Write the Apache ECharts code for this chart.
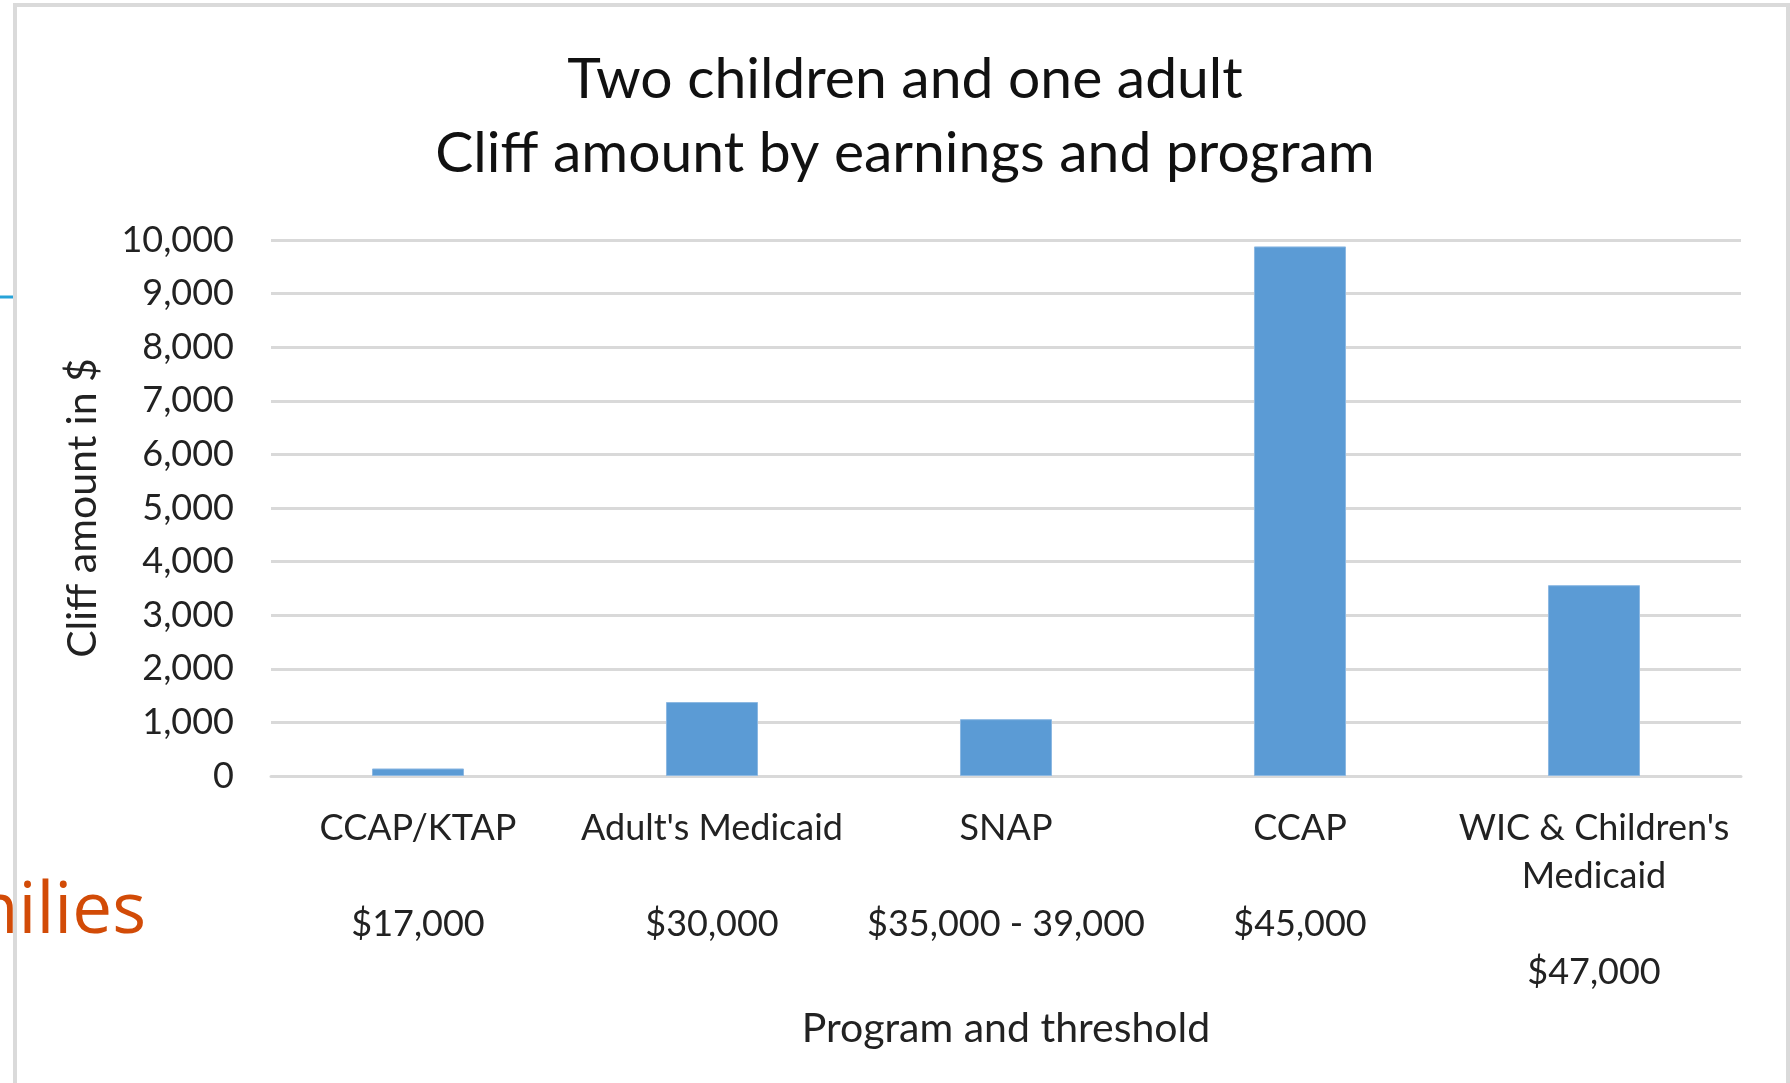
<!DOCTYPE html>
<html>
<head>
<meta charset="utf-8">
<script src="https://cdn.jsdelivr.net/npm/echarts@6/dist/echarts.min.js"></script>
<style>
  html, body { margin: 0; padding: 0; background: #ffffff; }
  #chart { width: 1790px; height: 1083px; }
</style>
</head>
<body>
<div id="chart"></div>
<script>
// Program names (first label block) and the earnings threshold under each
const programs = ['CCAP/KTAP', "Adult's Medicaid", 'SNAP', 'CCAP', "WIC & Children's\nMedicaid"];
const thresholds = ['$17,000', '$30,000', '$35,000 - 39,000', '$45,000', '$47,000'];
// Cliff amount in dollars for each program
const cliffAmounts = [140, 1380, 1060, 9880, 3560];
// Value axis range
const yMin = 0;
const yMax = 10000;
const yStep = 1000;

const categoryLabels = programs.map((p, i) => p + '\n\n' + thresholds[i]);

const FONT = 'Lato, "Open Sans", sans-serif';
const chart = echarts.init(document.getElementById('chart'), null, { renderer: 'canvas' });

chart.setOption({
  backgroundColor: '#ffffff',
  animation: false,
  title: {
    text: 'Two children and one adult\nCliff amount by earnings and program',
    left: 900,
    top: 38,
    textAlign: 'center',
    textStyle: {
      fontFamily: FONT,
      fontSize: 57,
      fontWeight: 'normal',
      color: '#111111',
      lineHeight: 74
    }
  },
  grid: {
    left: 271,
    right: 49,
    top: 240,
    bottom: 307,
    containLabel: false
  },
  xAxis: {
    type: 'category',
    data: categoryLabels,
    name: 'Program and threshold',
    nameLocation: 'middle',
    nameGap: 232,
    nameTextStyle: { fontFamily: FONT, fontSize: 41, color: '#222222' },
    axisTick: { show: false },
    axisLine: { lineStyle: { color: '#d9d9d9', width: 3 } },
    axisLabel: {
      interval: 0,
      margin: 28,
      fontFamily: FONT,
      fontSize: 36,
      lineHeight: 48,
      color: '#222222',
      align: 'center'
    }
  },
  yAxis: {
    type: 'value',
    min: yMin,
    max: yMax,
    interval: yStep,
    name: 'Cliff amount in $',
    nameLocation: 'middle',
    nameGap: 168,
    nameRotate: 90,
    nameTextStyle: { fontFamily: FONT, fontSize: 41, color: '#222222' },
    axisLine: { show: false },
    axisTick: { show: false },
    splitLine: { lineStyle: { color: '#d9d9d9', width: 3 } },
    axisLabel: {
      margin: 37,
      fontFamily: FONT,
      fontSize: 36,
      color: '#222222',
      formatter: v => v.toLocaleString('en-US')
    }
  },
  series: [{
    type: 'bar',
    data: cliffAmounts,
    barWidth: '31.3%',
    itemStyle: { color: '#5b9bd5', borderColor: '#8cb8e2', borderWidth: 1 }
  }],
  graphic: [
    // slide background elements behind the chart frame
    {
      type: 'text',
      style: {
        x: 146,
        y: 948,
        text: 'Families',
        textAlign: 'right',
        textVerticalAlign: 'bottom',
        font: '71px "Open Sans", sans-serif',
        fill: '#d24b07'
      },
      z: -1
    },
    {
      type: 'line',
      shape: { x1: 0, y1: 297, x2: 14, y2: 297 },
      style: { stroke: '#27a3d8', lineWidth: 3 },
      z: 10
    },
    // chart frame
    {
      type: 'rect',
      shape: { x: 15, y: 5, width: 1773, height: 1090 },
      style: { fill: null, stroke: '#dadada', lineWidth: 4 },
      z: 10
    }
  ]
});
</script>
</body>
</html>
